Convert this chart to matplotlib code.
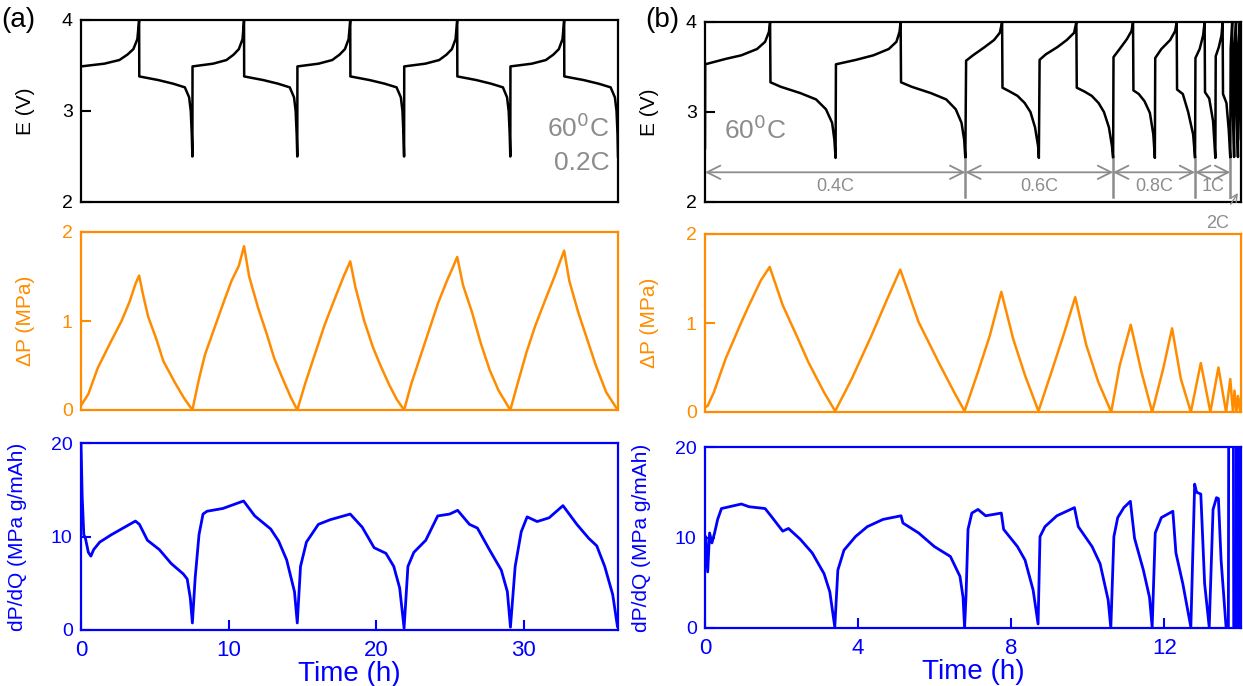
import numpy as np
import matplotlib.pyplot as plt

plt.rcParams['font.family'] = ['Liberation Sans', 'DejaVu Sans']

ORANGE = '#FF8C00'
BLUE = '#0000FF'
GRAY = '#8C8C8C'

# ---- (a) 0.2C cycling, 60 C ----
a_E_t = [0.0, 1.58, 2.6, 3.15, 3.55, 3.82, 3.94,
         3.95, 5.24, 6.25, 7.04, 7.33, 7.44, 7.51, 7.55,
         7.56, 8.95, 9.86, 10.35, 10.7, 10.95, 11.05,
         11.06, 12.35, 13.36, 14.15, 14.44, 14.55, 14.62, 14.66,
         14.67, 16.1, 17.03, 17.53, 17.89, 18.14, 18.25,
         18.26, 19.56, 20.59, 21.39, 21.68, 21.79, 21.86, 21.9,
         21.91, 23.34, 24.28, 24.78, 25.14, 25.39, 25.5,
         25.51, 26.8, 27.8, 28.6, 28.88, 28.99, 29.06, 29.1,
         29.11, 30.56, 31.51, 32.02, 32.39, 32.64, 32.75,
         32.76, 34.07, 35.09, 35.9, 36.19, 36.3, 36.37, 36.4]
a_E_v = [3.49, 3.52, 3.56, 3.62, 3.68, 3.79, 4.0,
         3.38, 3.34, 3.30, 3.26, 3.15, 3.0, 2.74, 2.5,
         3.49, 3.52, 3.56, 3.62, 3.68, 3.79, 4.0,
         3.38, 3.34, 3.30, 3.26, 3.15, 3.0, 2.74, 2.5,
         3.49, 3.52, 3.56, 3.62, 3.68, 3.79, 4.0,
         3.38, 3.34, 3.30, 3.26, 3.15, 3.0, 2.74, 2.5,
         3.49, 3.52, 3.56, 3.62, 3.68, 3.79, 4.0,
         3.38, 3.34, 3.30, 3.26, 3.15, 3.0, 2.74, 2.5,
         3.49, 3.52, 3.56, 3.62, 3.68, 3.79, 4.0,
         3.38, 3.34, 3.30, 3.26, 3.15, 3.0, 2.74, 2.5]

a_P_t = [0.0, 0.5, 1.13, 2.0, 2.75, 3.3, 3.7, 3.94, 4.2, 4.55, 5.1, 5.58, 6.39, 7.0, 7.55,
         8.0, 8.4, 9.0, 9.6, 10.2, 10.7, 11.05, 11.4, 12.0, 12.6, 13.1, 13.6, 14.2, 14.66,
         15.2, 15.8, 16.5, 17.2, 17.8, 18.25, 18.6, 19.2, 19.8, 20.3, 20.9, 21.4, 21.9,
         22.4, 23.0, 23.6, 24.2, 24.8, 25.2, 25.5, 25.9, 26.5, 27.1, 27.7, 28.3, 29.1,
         29.6, 30.2, 30.8, 31.5, 32.1, 32.5, 32.75, 33.1, 33.7, 34.3, 34.9, 35.6, 36.3]
a_P_v = [0.05, 0.18, 0.47, 0.76, 1.0, 1.22, 1.42, 1.51, 1.3, 1.05, 0.8, 0.55, 0.3, 0.13, 0.0,
         0.35, 0.62, 0.9, 1.18, 1.45, 1.62, 1.84, 1.5, 1.15, 0.85, 0.58, 0.38, 0.15, 0.0,
         0.3, 0.6, 0.95, 1.25, 1.5, 1.67, 1.38, 1.0, 0.7, 0.5, 0.28, 0.12, 0.0,
         0.3, 0.6, 0.9, 1.2, 1.45, 1.6, 1.72, 1.4, 1.1, 0.75, 0.45, 0.22, 0.0,
         0.3, 0.65, 0.95, 1.25, 1.5, 1.68, 1.79, 1.45, 1.1, 0.8, 0.5, 0.2, 0.02]

a_D_t = [0.0, 0.08, 0.19, 0.3, 0.5, 0.67, 0.86, 1.27, 2.07, 3.69, 3.96, 4.5, 5.31, 6.12, 6.93,
         7.2, 7.41, 7.55, 7.74, 8.0, 8.27, 8.54, 9.62, 11.02, 11.78, 12.86, 13.4, 13.94, 14.47,
         14.66, 14.88, 15.28, 16.09, 16.9, 18.25, 19.06, 19.87, 20.67, 21.2, 21.6, 21.9,
         22.16, 22.56, 23.37, 24.18, 24.99, 25.53, 26.33, 26.87, 27.68, 28.49, 28.9, 29.11,
         29.43, 29.84, 30.24, 30.92, 31.73, 32.67, 33.61, 34.42, 34.96, 35.5, 36.04, 36.36]
a_D_v = [20.0, 14.3, 10.2, 9.8, 8.3, 7.9, 8.6, 9.4, 10.2, 11.65, 11.3, 9.6, 8.6, 7.1, 6.0,
         5.45, 3.4, 0.75, 5.6, 10.2, 12.4, 12.7, 13.0, 13.8, 12.2, 10.8, 9.5, 7.5, 4.1,
         0.75, 6.8, 9.4, 11.3, 11.8, 12.4, 11.0, 8.8, 8.2, 6.8, 4.5, 0.2,
         6.8, 8.3, 9.6, 12.2, 12.4, 12.8, 11.3, 10.9, 8.6, 6.4, 4.1, 0.3,
         6.8, 10.5, 12.1, 11.6, 12.0, 13.3, 11.3, 9.8, 9.0, 6.8, 3.8, 0.4]

# ---- (b) rate steps 0.4C / 0.6C / 0.8C / 1C / 2C, 60 C ----
b_E_t = [0.0, 0.005, 0.54, 0.95, 1.36, 1.57, 1.67, 1.70,
         1.71, 1.98, 2.49, 2.9, 3.16, 3.32, 3.38, 3.41,
         3.42, 3.95, 4.4, 4.8, 5.0, 5.08, 5.11,
         5.12, 5.4, 5.9, 6.3, 6.55, 6.7, 6.77, 6.80,
         6.82, 7.0, 7.3, 7.55, 7.7, 7.76,
         7.77, 7.95, 8.16, 8.35, 8.5, 8.62, 8.7, 8.72,
         8.74, 8.9, 9.2, 9.45, 9.64, 9.70,
         9.71, 9.9, 10.1, 10.28, 10.42, 10.55, 10.63, 10.66,
         10.67, 10.83, 11.02, 11.14, 11.18,
         11.19, 11.33, 11.48, 11.62, 11.71, 11.75,
         11.76, 11.92, 12.15, 12.28, 12.32,
         12.33, 12.48, 12.62, 12.75, 12.80,
         12.81, 12.92, 13.01, 13.05,
         13.06, 13.17, 13.27, 13.33,
         13.34, 13.42, 13.49, 13.52,
         13.53, 13.62, 13.68, 13.72,
         13.73, 13.77, 13.78, 13.82, 13.83, 13.87, 13.88, 13.92,
         13.93, 13.97, 13.98, 14.0]
b_E_v = [2.6, 3.53, 3.59, 3.63, 3.70, 3.78, 3.89, 4.0,
         3.33, 3.28, 3.21, 3.14, 3.03, 2.88, 2.69, 2.49,
         3.53, 3.58, 3.63, 3.70, 3.78, 3.89, 4.0,
         3.33, 3.28, 3.21, 3.14, 3.03, 2.88, 2.69, 2.49,
         3.57, 3.63, 3.72, 3.80, 3.88, 4.0,
         3.27, 3.23, 3.18, 3.1, 3.0, 2.83, 2.62, 2.49,
         3.58, 3.64, 3.72, 3.80, 3.88, 4.0,
         3.27, 3.23, 3.18, 3.1, 3.0, 2.83, 2.62, 2.49,
         3.61, 3.70, 3.81, 3.9, 4.0,
         3.24, 3.2, 3.12, 2.99, 2.75, 2.49,
         3.6, 3.70, 3.8, 3.9, 4.0,
         3.25, 3.2, 3.0, 2.75, 2.49,
         3.6, 3.7, 3.85, 4.0,
         3.22, 3.15, 2.9, 2.49,
         3.62, 3.72, 3.85, 4.0,
         3.2, 3.1, 2.8, 2.49,
         3.7, 4.0, 3.1, 2.5, 3.7, 4.0, 3.1, 2.5,
         3.7, 4.0, 3.1, 2.7]

b_P_t = [0.0, 0.07, 0.23, 0.54, 0.95, 1.15, 1.46, 1.69, 2.03, 2.39, 2.7, 3.11, 3.4,
         3.83, 4.35, 4.76, 5.1, 5.58, 6.1, 6.51, 6.78,
         7.13, 7.44, 7.74, 8.05, 8.36, 8.71,
         9.08, 9.39, 9.67, 9.96, 10.27, 10.61,
         10.83, 11.12, 11.4, 11.68,
         11.97, 12.2, 12.43, 12.69,
         12.95, 13.2, 13.41, 13.61,
         13.72, 13.79, 13.83, 13.88, 13.92, 13.97, 14.0]
b_P_v = [0.05, 0.07, 0.22, 0.6, 1.01, 1.2, 1.48, 1.63, 1.2, 0.86, 0.56, 0.22, 0.01,
         0.37, 0.86, 1.27, 1.6, 1.01, 0.56, 0.22, 0.01,
         0.45, 0.86, 1.35, 0.82, 0.41, 0.01,
         0.49, 0.9, 1.29, 0.75, 0.34, 0.0,
         0.52, 0.98, 0.45, 0.0,
         0.49, 0.94, 0.37, 0.0,
         0.55, 0.0, 0.5, 0.0,
         0.37, 0.0, 0.24, 0.0, 0.18, 0.02, 0.15]

b_D_t = [0.0, 0.02, 0.07, 0.12, 0.18, 0.25, 0.33, 0.43, 0.74, 0.95, 1.15, 1.36, 1.57, 1.72,
         2.03, 2.18, 2.49, 2.8, 3.11, 3.26, 3.39,
         3.47, 3.63, 3.93, 4.24, 4.65, 5.12, 5.17, 5.58, 5.99, 6.41, 6.66, 6.74, 6.78,
         6.82, 6.87, 6.97, 7.13, 7.33, 7.74, 7.8, 8.16, 8.36, 8.57, 8.7,
         8.75, 8.88, 9.19, 9.65, 9.75, 10.11, 10.32, 10.53, 10.6,
         10.68, 10.78, 10.94, 11.11, 11.22, 11.45, 11.61, 11.68,
         11.76, 11.92, 12.22, 12.3, 12.48, 12.69,
         12.79, 12.84, 12.95, 13.05, 13.17,
         13.27, 13.36, 13.41, 13.48, 13.61,
         13.67, 13.68, 13.80, 13.81, 13.88, 13.89, 13.90, 13.91, 13.93, 13.94, 13.96, 13.97, 14.0]
b_D_v = [7.0, 10.1, 6.2, 10.5, 9.4, 10.5, 12.0, 13.2, 13.5, 13.7, 13.4, 13.3, 13.2, 12.4,
         10.7, 11.0, 9.8, 8.3, 6.0, 4.0, 0.1,
         6.4, 8.6, 10.1, 11.2, 12.0, 12.4, 11.6, 10.5, 9.0, 7.9, 5.7, 3.4, 0.0,
         3.8, 10.9, 12.7, 13.1, 12.4, 12.7, 10.9, 9.0, 7.5, 4.2, 0.45,
         10.1, 11.2, 12.4, 13.3, 11.2, 9.0, 7.1, 3.1, 0.0,
         10.1, 12.2, 13.3, 14.0, 9.9, 6.4, 3.4, 0.1,
         10.5, 12.2, 12.9, 8.3, 4.9, 0.1,
         15.9, 15.0, 14.8, 4.9, 0.1,
         13.1, 14.4, 14.3, 7.5, 0.1,
         0.0, 25.0, 25.0, 0.0, 0.0, 25.0, 0.0, 25.0, 0.0, 25.0, 0.0, 25.0, 25.0]

# rate segments on (b): (start, end, label)
b_rates = [(0.0, 6.80, '0.4C'), (6.80, 10.66, '0.6C'), (10.66, 12.80, '0.8C'), (12.80, 13.72, '1C')]


def style_axis(ax, color, ticks, ylabel, xlim, ylim):
    ax.set_xlim(*xlim)
    ax.set_ylim(*ylim)
    ax.set_yticks(ticks)
    ax.set_yticklabels([str(t) for t in ticks])
    for s in ax.spines.values():
        s.set_color(color)
        s.set_linewidth(1.6)
    ax.tick_params(axis='y', direction='in', length=7, width=1.5, colors=color,
                   labelsize=14, pad=6)
    ax.set_ylabel(ylabel, color=color, fontsize=15)


fig = plt.figure(figsize=(12.43, 6.86), dpi=100)
W, H = 1243.0, 686.0


def add_ax(x0, x1, ytop, ybot):
    return fig.add_axes([x0 / W, 1 - ybot / H, (x1 - x0) / W, (ybot - ytop) / H])


cols = [(81, 618, 36.4), (705, 1241, 14.0)]
rows_a = [(20, 202), (232, 410), (443, 630)]
rows_b = [(22, 202), (234, 412), (447, 628)]

panels = [(a_E_t, a_E_v, a_P_t, a_P_v, a_D_t, a_D_v, cols[0], rows_a, [0, 10, 20, 30]),
          (b_E_t, b_E_v, b_P_t, b_P_v, b_D_t, b_D_v, cols[1], rows_b, [0, 4, 8, 12])]

axes = []
for Et, Ev, Pt, Pv, Dt, Dv, (x0, x1, tmax), rows, xt in panels:
    axE = add_ax(x0, x1, *rows[0])
    axP = add_ax(x0, x1, *rows[1])
    axD = add_ax(x0, x1, *rows[2])
    # voltage panel on top so its outside notes are not hidden by the panel below
    axE.set_zorder(3)

    axE.plot(Et, Ev, color='black', lw=1.8)
    style_axis(axE, 'black', [2, 3, 4], 'E (V)', (0, tmax), (2, 4))

    axP.plot(Pt, Pv, color=ORANGE, lw=1.8)
    style_axis(axP, ORANGE, [0, 1, 2], '\u0394P (MPa)', (0, tmax), (0, 2))

    axD.plot(Dt, Dv, color=BLUE, lw=2.0)
    style_axis(axD, BLUE, [0, 10, 20], 'dP/dQ (MPa g/mAh)', (0, tmax), (0, 20))

    for ax in (axE, axP):
        ax.set_xticks([])
    axD.set_xticks(xt)
    axD.tick_params(axis='x', direction='in', length=7, width=1.5, colors=BLUE,
                    labelsize=16, pad=7)
    axD.set_xlabel('Time (h)', color=BLUE, fontsize=20, labelpad=0)

    for ax in (axE, axP):
        ax.yaxis.set_label_coords(-0.086, 0.5)
    axD.yaxis.set_label_coords(-0.1, 0.5)
    axes.append((axE, axP, axD))

# annotations on (a)
axE_a = axes[0][0]
axE_a.text(35.8, 2.82, '60$^{0}$C', color=GRAY, fontsize=19, ha='right', va='center')
axE_a.text(35.8, 2.43, '0.2C', color=GRAY, fontsize=19, ha='right', va='center')

# annotations on (b)
axE_b = axes[1][0]
axE_b.text(0.5, 2.8, '60$^{0}$C', color=GRAY, fontsize=19, ha='left', va='center')
for t0, t1, lab in b_rates:
    axE_b.annotate('', xy=(t0, 2.33), xytext=(t1, 2.33),
                   arrowprops=dict(arrowstyle='<->', color=GRAY, lw=1.3,
                                   mutation_scale=24, shrinkA=0, shrinkB=0))
    axE_b.text((t0 + t1) / 2, 2.17, lab, color=GRAY, fontsize=13, ha='center', va='center')
for t in [6.80, 10.66, 12.80, 13.72]:
    axE_b.plot([t, t], [2.06, 2.48], color=GRAY, lw=1.8)
axE_b.annotate('2C', xy=(13.92, 2.1), xytext=(13.4, 1.76), color=GRAY, fontsize=13,
               ha='center', va='center', annotation_clip=False,
               arrowprops=dict(arrowstyle='->', color=GRAY, lw=1.0, shrinkA=7, shrinkB=0))

fig.text(18 / W, 1 - 20 / H, '(a)', fontsize=20, ha='center', va='center')
fig.text(662 / W, 1 - 20 / H, '(b)', fontsize=20, ha='center', va='center')

fig.savefig('out.png', dpi=100)
